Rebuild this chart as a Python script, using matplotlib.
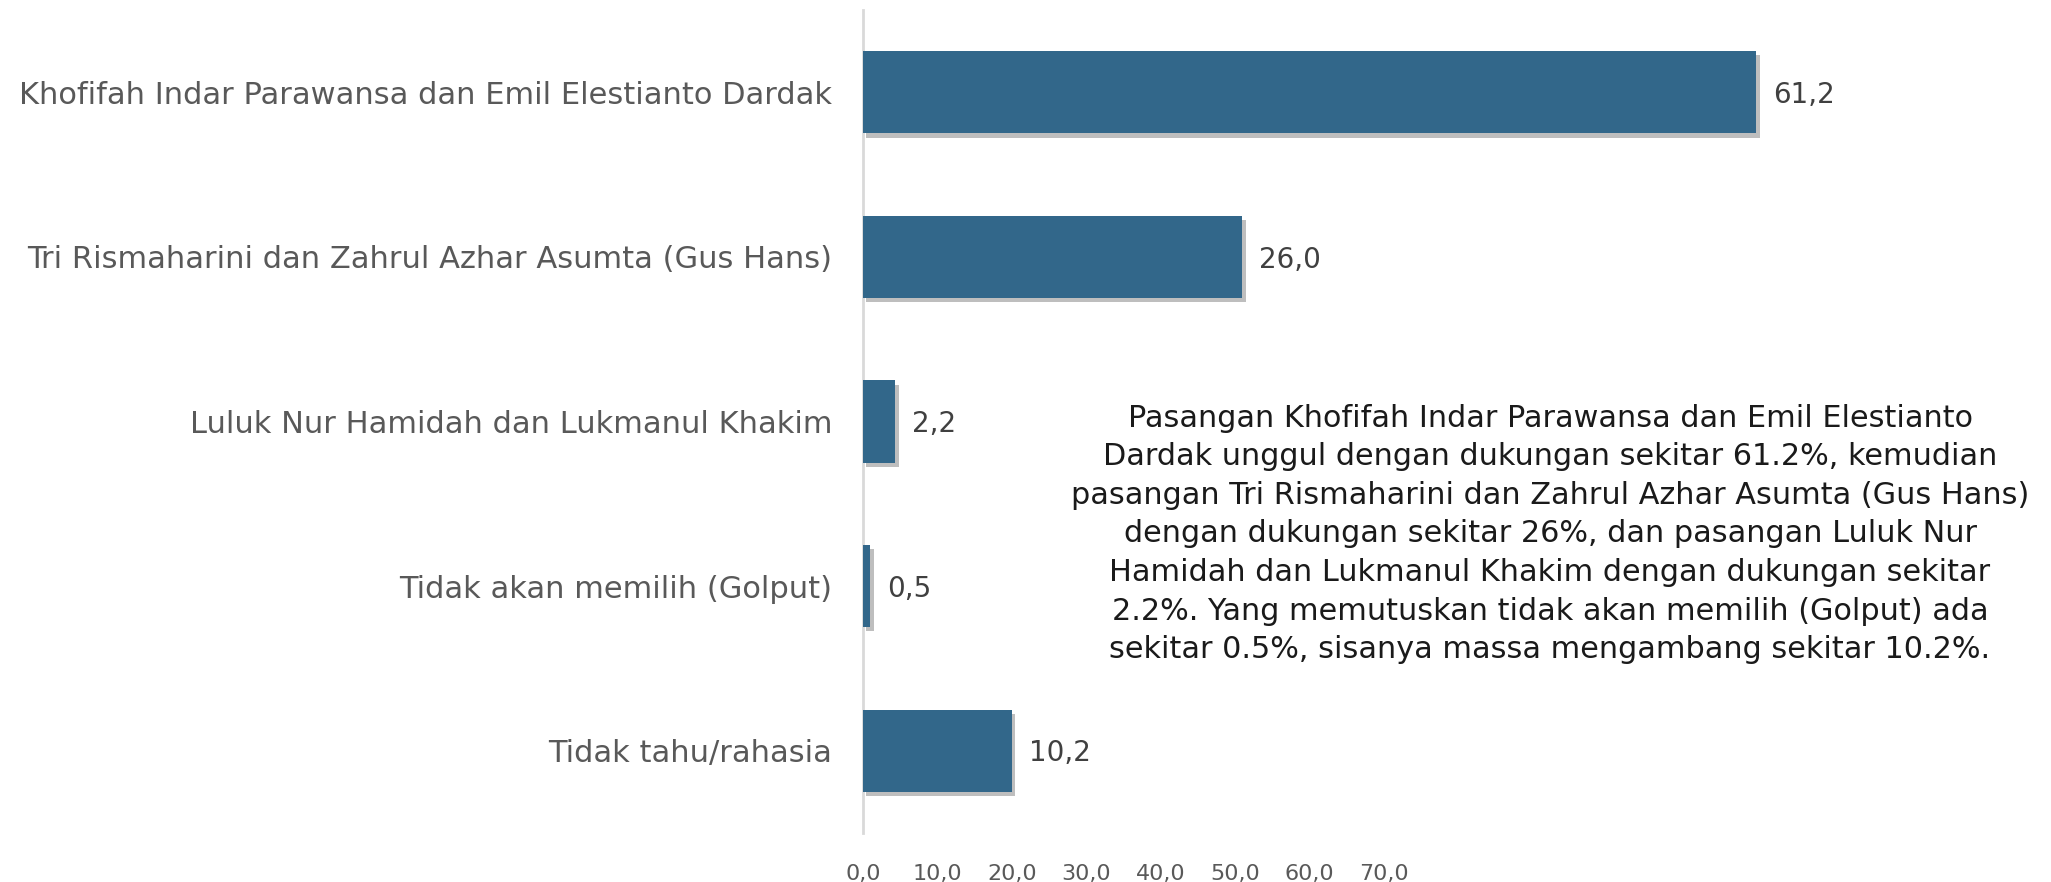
import matplotlib
matplotlib.use("Agg")
import matplotlib.pyplot as plt
import matplotlib.patheffects as pe
import numpy as np

categories = [
    "Khofifah Indar Parawansa dan Emil Elestianto Dardak",
    "Tri Rismaharini dan Zahrul Azhar Asumta (Gus Hans)",
    "Luluk Nur Hamidah dan Lukmanul Khakim",
    "Tidak akan memilih (Golput)",
    "Tidak tahu/rahasia",
]
values = [61.2, 26.0, 2.2, 0.5, 10.2]
value_labels = ["61,2", "26,0", "2,2", "0,5", "10,2"]
tick_values = [0, 10, 20, 30, 40, 50, 60, 70]
tick_labels = ["0,0", "10,0", "20,0", "30,0", "40,0", "50,0", "60,0", "70,0"]
note_lines = [
    "Pasangan Khofifah Indar Parawansa dan Emil Elestianto",
    "Dardak unggul dengan dukungan sekitar 61.2%, kemudian",
    "pasangan Tri Rismaharini dan Zahrul Azhar Asumta (Gus Hans)",
    "dengan dukungan sekitar 26%, dan pasangan Luluk Nur",
    "Hamidah dan Lukmanul Khakim dengan dukungan sekitar",
    "2.2%. Yang memutuskan tidak akan memilih (Golput) ada",
    "sekitar 0.5%, sisanya massa mengambang sekitar 10.2%.",
]

plt.rcParams['font.family'] = ['DejaVu Sans']

W, H = 2051, 882
fig = plt.figure(figsize=(W / 100, H / 100), dpi=100)
left_px, top_px, bottom_px = 863, 10, 833
ax = fig.add_axes([left_px / W, 1 - bottom_px / H, 0.99 - left_px / W, (bottom_px - top_px) / H])

bar_color = "#32678A"
y = np.arange(len(categories))
bars = ax.barh(y, values, height=0.5, color=bar_color, zorder=3)
for b in bars:
    b.set_path_effects([pe.SimplePatchShadow(offset=(2.5, -3), shadow_rgbFace="#8a8a8a", alpha=0.55), pe.Normal()])

ax.set_xlim(0, 80)
ax.set_ylim(len(categories) - 0.5, -0.5)

for yi, v, lab in zip(y, values, value_labels):
    ax.annotate(lab, (v, yi), xytext=(12, -2), textcoords="offset points",
                va="center", ha="left", fontsize=20, color="#404040")

ax.set_yticks(y)
ax.set_yticklabels(categories, fontsize=22, color="#595959")
ax.tick_params(axis="y", length=0, pad=22)

# tick label positions as drawn in the reference (labels spaced at 0.51 of bar scale)
scale = 0.51
ax.set_xticks([t * scale for t in tick_values])
ax.set_xticklabels(tick_labels, fontsize=16, color="#595959")
ax.tick_params(axis="x", length=0, pad=22)

for s in ["top", "right", "bottom"]:
    ax.spines[s].set_visible(False)
ax.spines["left"].set_color("#D9D9D9")
ax.spines["left"].set_linewidth(2)

fig.text(1550 / W, 1 - 534 / H, "\n".join(note_lines), ha="center", va="center",
         fontsize=21.8, color="#1a1a1a", linespacing=1.42)

fig.savefig("out.png", dpi=100)
